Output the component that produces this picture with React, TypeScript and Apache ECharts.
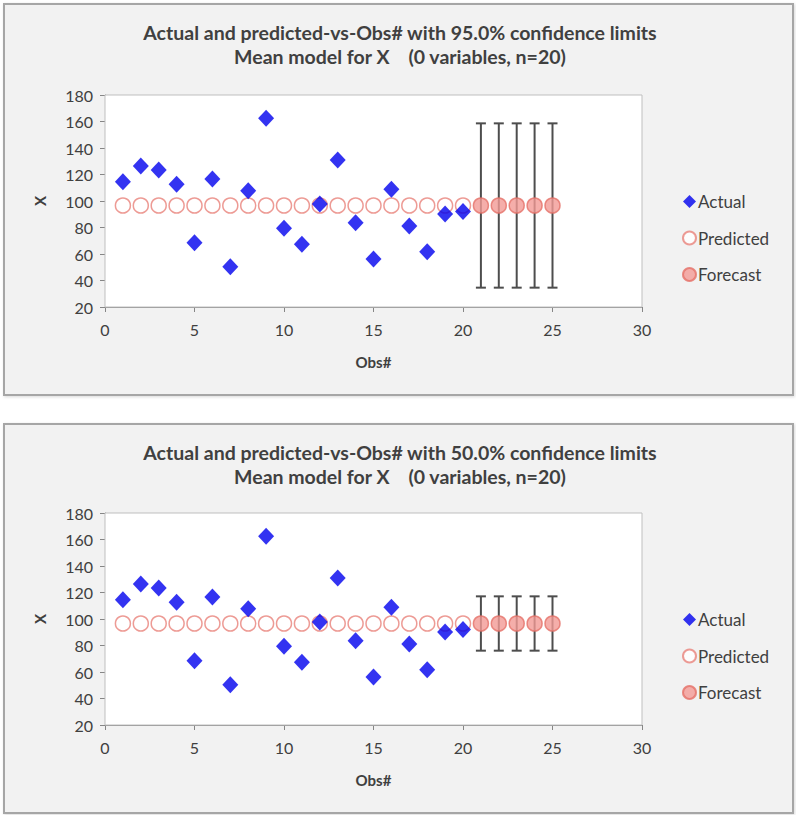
import React, { useEffect, useRef } from "react";
import * as echarts from "echarts";

const obs: number[] = [1, 2, 3, 4, 5, 6, 7, 8, 9, 10, 11, 12, 13, 14, 15, 16, 17, 18, 19, 20];
const actual: number[] = [114.6, 126.4, 123.4, 112.6, 68.5, 116.6, 50.4, 107.8, 162.4, 79.4, 67.3, 97.7, 130.9, 83.6, 56.2, 108.8, 81.1, 61.7, 90.2, 92.0];
const predicted: number[] = [96.6, 96.6, 96.6, 96.6, 96.6, 96.6, 96.6, 96.6, 96.6, 96.6, 96.6, 96.6, 96.6, 96.6, 96.6, 96.6, 96.6, 96.6, 96.6, 96.6];
const forecastObs: number[] = [21, 22, 23, 24, 25];
const forecast: number[] = [96.6, 96.6, 96.6, 96.6, 96.6];
const lower95: number[] = [34.6, 34.6, 34.6, 34.6, 34.6];
const upper95: number[] = [158.6, 158.6, 158.6, 158.6, 158.6];
const lower50: number[] = [76.1, 76.1, 76.1, 76.1, 76.1];
const upper50: number[] = [117.1, 117.1, 117.1, 117.1, 117.1];
const titles: string[] = [
  "Actual and predicted-vs-Obs# with 95.0% confidence limits\nMean model for X    (0 variables, n=20)",
  "Actual and predicted-vs-Obs# with 50.0% confidence limits\nMean model for X    (0 variables, n=20)",
];

const FONT = "Lato, 'Open Sans', sans-serif";
const TXT = "#404040";

export default function App() {
  const ref = useRef<HTMLDivElement>(null);
  useEffect(() => {
    if (!ref.current) return;
    const chart = echarts.init(ref.current, undefined, { renderer: "svg" });
    const offsets = [0, 418];
    const titleOffsets = [0, 420];
    const bounds = [
      [lower95, upper95],
      [lower50, upper50],
    ];
    const grids: any[] = [];
    const xAxes: any[] = [];
    const yAxes: any[] = [];
    const series: any[] = [];
    const titleArr: any[] = [];
    const legends: any[] = [];
    offsets.forEach((off, i) => {
      grids.push({
        left: 105,
        top: 95 + off,
        width: 537,
        height: 212,
        show: true,
        backgroundColor: "#FFFFFF",
        borderColor: "#BFBFBF",
        borderWidth: 1,
        z: 1,
      });
      xAxes.push({
        type: "value",
        gridIndex: i,
        min: 0,
        max: 30,
        interval: 5,
        name: "Obs#",
        nameLocation: "middle",
        nameGap: 47,
        nameTextStyle: { fontFamily: FONT, fontWeight: "bold", fontSize: 15, color: TXT },
        axisLine: { show: true, onZero: false, lineStyle: { color: "#868686", width: 1 } },
        axisTick: { show: true, inside: false, length: 5, lineStyle: { color: "#868686" } },
        axisLabel: { fontFamily: FONT, fontSize: 16, color: TXT, margin: 14 },
        splitLine: { show: false },
      });
      yAxes.push({
        type: "value",
        gridIndex: i,
        min: 20,
        max: 180,
        interval: 20,
        name: "X",
        nameLocation: "middle",
        nameRotate: 90,
        nameGap: 58,
        nameTextStyle: { fontFamily: FONT, fontWeight: "bold", fontSize: 15, color: TXT },
        axisLine: { show: true, lineStyle: { color: "#868686", width: 1 } },
        axisTick: { show: true, inside: false, length: 5, lineStyle: { color: "#868686" } },
        axisLabel: { fontFamily: FONT, fontSize: 16, color: TXT, margin: 12 },
        splitLine: { show: true, lineStyle: { color: "#D0D0D0", width: 1 } },
      });
      const [lo, hi] = bounds[i];
      series.push({
        name: "Predicted",
        type: "scatter",
        xAxisIndex: i,
        yAxisIndex: i,
        symbol: "circle",
        symbolSize: 15,
        itemStyle: { color: "#FFFFFF", borderColor: "#E8827A", borderWidth: 1.5 },
        data: obs.map((o, k) => [o, predicted[k]]),
        z: 3,
      });
      series.push({
        name: "Actual",
        type: "scatter",
        xAxisIndex: i,
        yAxisIndex: i,
        symbol: "diamond",
        symbolSize: [16, 17],
        itemStyle: { color: "#0000EE" },
        data: obs.map((o, k) => [o, actual[k]]),
        z: 4,
      });
      series.push({
        name: "ErrorBars" + i,
        type: "custom",
        xAxisIndex: i,
        yAxisIndex: i,
        encode: { x: 0, y: [1, 2] },
        data: forecastObs.map((o, k) => [o, lo[k], hi[k]]),
        renderItem: (params: any, api: any) => {
          const x = api.value(0);
          const a = api.coord([x, api.value(1)]);
          const b = api.coord([x, api.value(2)]);
          const hw = 5;
          const st = { stroke: "#4D4D4D", lineWidth: 2 };
          return {
            type: "group",
            children: [
              { type: "line", shape: { x1: a[0], y1: a[1], x2: b[0], y2: b[1] }, style: st },
              { type: "line", shape: { x1: a[0] - hw, y1: a[1], x2: a[0] + hw, y2: a[1] }, style: st },
              { type: "line", shape: { x1: b[0] - hw, y1: b[1], x2: b[0] + hw, y2: b[1] }, style: st },
            ],
          };
        },
        z: 5,
      });
      series.push({
        name: "Forecast",
        type: "scatter",
        xAxisIndex: i,
        yAxisIndex: i,
        symbol: "circle",
        symbolSize: 15,
        itemStyle: { color: "#F29A95", borderColor: "#E57068", borderWidth: 1.5 },
        data: forecastObs.map((o, k) => [o, forecast[k]]),
        z: 6,
      });
      titleArr.push({
        text: titles[i],
        left: 400,
        textAlign: "center",
        top: 20 + titleOffsets[i],
        padding: 0,
        textStyle: { fontFamily: FONT, fontWeight: "bold", fontSize: 19.5, color: TXT, lineHeight: 24 },
      });
      legends.push({
        data: ["Actual", "Predicted", "Forecast"],
        orient: "vertical",
        left: 677,
        top: 188 + off,
        itemWidth: 13,
        itemHeight: 13,
        itemGap: 19.5,
        selectedMode: false,
        textStyle: { fontFamily: FONT, fontSize: 17, color: TXT, padding: [0, 0, 0, -3] },
      });
    });

    const boxes = [
      { type: "rect", shape: { x: 4, y: 4, width: 789, height: 391 }, style: { fill: "#F2F2F2", stroke: "#A6A6A6", lineWidth: 2, shadowColor: "rgba(0,0,0,0.15)", shadowBlur: 3, shadowOffsetX: 1, shadowOffsetY: 1 }, z: -10 },
      { type: "rect", shape: { x: 4, y: 424, width: 789, height: 389 }, style: { fill: "#F2F2F2", stroke: "#A6A6A6", lineWidth: 2, shadowColor: "rgba(0,0,0,0.15)", shadowBlur: 3, shadowOffsetX: 1, shadowOffsetY: 1 }, z: -10 },
    ];

    chart.setOption({
      animation: false,
      backgroundColor: "#FFFFFF",
      title: titleArr,
      legend: legends,
      grid: grids,
      xAxis: xAxes,
      yAxis: yAxes,
      series,
      graphic: { elements: boxes.map((b) => ({ ...b, silent: true })) },
    });
    return () => chart.dispose();
  }, []);
  return (
    <div
      ref={ref}
      style={{ position: "absolute", left: 0, top: 0, width: 796, height: 815 }}
    />
  );
}
